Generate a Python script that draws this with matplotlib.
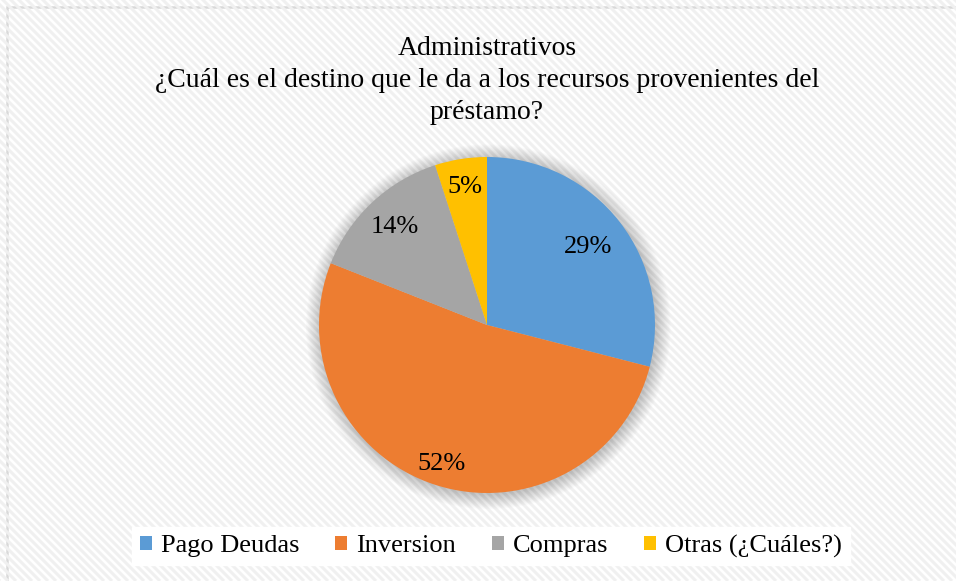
import numpy as np
import matplotlib.pyplot as plt
from matplotlib.patches import Circle, Rectangle

# Survey answers (share of respondents)
categories = ["Pago Deudas", "Inversion", "Compras", "Otras (¿Cuáles?)"]
shares = [29, 52, 14, 5]
colors = ["#5B9BD5", "#ED7D31", "#A5A5A5", "#FFC000"]
title = ("Administrativos\n"
         "¿Cuál es el destino que le da a los recursos provenientes del\n"
         "préstamo?")

# label radius (fraction of pie radius) for each slice
label_r = [0.76, 0.87, 0.80, 0.83]

plt.rcParams["font.family"] = ["Liberation Serif", "DejaVu Serif"]

W, H = 956, 581
fig = plt.figure(figsize=(W / 100, H / 100), dpi=100)
fig.patch.set_facecolor("white")

# striped background
bg = fig.add_axes([0, 0, 1, 1], zorder=-10)
bg.set_xlim(0, W)
bg.set_ylim(0, H)
bg.axis("off")
for c in np.arange(0, W + H + 10, 8):
    bg.plot([c - H - 10, c], [H + 10, 0], color="#f0f0f0", lw=2.2,
            solid_capstyle="butt")
# white frame outside the chart area
bg.add_patch(Rectangle((-10, H - 7), W + 20, 20, color="white", lw=0))
bg.add_patch(Rectangle((-10, -10), 17, H + 20, color="white", lw=0))
bg.add_patch(Rectangle((7, -10), W + 20, H + 10 - 7, fill=False,
                       edgecolor="#d9d9d9", lw=1.8))

# pie
cx, cy, R, L = 487, 325, 168, 1.12
half = R * L
ax = fig.add_axes([(cx - half) / W, (H - cy - half) / H, 2 * half / W, 2 * half / H])
wedges, _ = ax.pie(shares, colors=colors, startangle=90, counterclock=False,
                   radius=1.0, wedgeprops=dict(linewidth=0))
for w in wedges:
    w.set_zorder(3)
# soft shadow round the pie
for r in np.linspace(1.0, 1.085, 14):
    ax.add_patch(Circle((0.008, -0.01), r, color="black", alpha=0.016,
                        lw=0, zorder=1))
ax.set_xlim(-L, L)
ax.set_ylim(-L, L)
ax.set_aspect("equal")
ax.axis("off")

for w, v, lr in zip(wedges, shares, label_r):
    ang = np.deg2rad((w.theta1 + w.theta2) / 2)
    ax.text(lr * np.cos(ang), lr * np.sin(ang), f"{v}%", ha="center",
            va="center", fontsize=19, color="black", zorder=5)

fig.text(cx / W, 1 - 36 / H, title, ha="center", va="top", fontsize=20,
         linespacing=1.38)

leg = fig.legend(wedges, categories, loc="center", ncol=4,
                 bbox_to_anchor=(491 / W, 1 - 546 / H), fontsize=19,
                 frameon=True, fancybox=False, handlelength=0.45,
                 handleheight=0.45, handletextpad=0.35, columnspacing=1.35,
                 borderpad=0.3)
leg.get_frame().set_facecolor("white")
leg.get_frame().set_edgecolor("white")
leg.get_frame().set_alpha(1)

fig.savefig("out.png", dpi=100)
